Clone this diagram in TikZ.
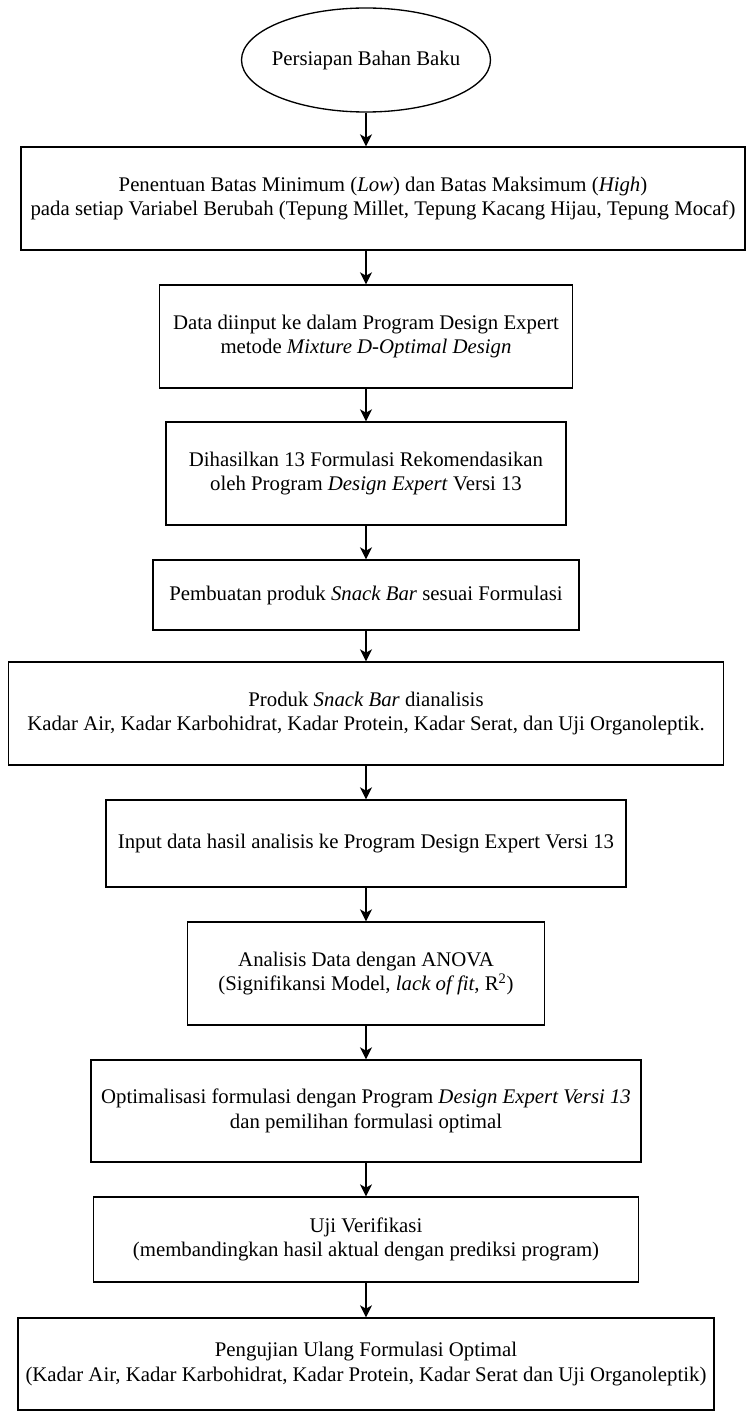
\documentclass[tikz,border=0pt]{standalone}
\usepackage{fontspec}
\setmainfont{Liberation Serif}
\usetikzlibrary{arrows.meta,shapes.geometric}

\begin{document}
\begin{tikzpicture}[x=0.75pt,y=-0.75pt,
    proc/.style={draw,line width=1pt,rectangle,align=center,inner sep=0pt,
        font=\fontsize{15.6}{18.5}\selectfont},
    startnode/.style={draw,line width=1pt,ellipse,inner xsep=-10pt,inner ysep=0pt,
        font=\fontsize{15.6}{18.5}\selectfont},
    flow/.style={line width=1pt,-{Stealth[length=9pt,width=9pt,inset=2.5pt]}}]
    \useasboundingbox (0,0) rectangle (747,1416);
    % start
    \node[startnode,minimum width=186.75pt,minimum height=78pt] (start) at (366,60) {Persiapan Bahan Baku};
    % steps
    \node[proc,minimum width=543pt,minimum height=77.25pt] (b1) at (383,198.5)
        {Penentuan Batas Minimum (\textit{Low}) dan Batas Maksimum (\textit{High})\\
         pada setiap Variabel Berubah (Tepung Millet, Tepung Kacang Hijau, Tepung Mocaf)};
    \node[proc,minimum width=309.75pt,minimum height=77.25pt] (b2) at (366,336.5)
        {Data diinput ke dalam Program Design Expert\\ metode \textit{Mixture D-Optimal Design}};
    \node[proc,minimum width=300pt,minimum height=77.25pt] (b3) at (366,473.5)
        {Dihasilkan 13 Formulasi Rekomendasikan\\ oleh Program \textit{Design Expert} Versi 13};
    \node[proc,minimum width=319.5pt,minimum height=52.5pt] (b4) at (366,595)
        {Pembuatan produk \textit{Snack Bar} sesuai Formulasi};
    \node[proc,minimum width=536.25pt,minimum height=77.25pt] (b5) at (366,713.5)
        {Produk \textit{Snack Bar} dianalisis\\
         Kadar Air, Kadar Karbohidrat, Kadar Protein, Kadar Serat, dan Uji Organoleptik.};
    \node[proc,minimum width=390pt,minimum height=65.25pt] (b6) at (366,843.5)
        {Input data hasil analisis ke Program Design Expert Versi 13};
    \node[proc,minimum width=267.75pt,minimum height=77.25pt] (b7) at (366,973.5)
        {Analisis Data dengan ANOVA\\ (Signifikansi Model, \textit{lack of fit}, R\textsuperscript{2})};
    \node[proc,minimum width=412.5pt,minimum height=76.5pt] (b8) at (366,1111)
        {Optimalisasi formulasi dengan Program \textit{Design Expert Versi 13}\\ dan pemilihan formulasi optimal};
    \node[proc,minimum width=408.75pt,minimum height=63.75pt] (b9) at (366,1239.5)
        {Uji Verifikasi\\ (membandingkan hasil aktual dengan prediksi program)};
    \node[proc,minimum width=522pt,minimum height=69pt] (b10) at (366,1364)
        {Pengujian Ulang Formulasi Optimal\\
         (Kadar Air, Kadar Karbohidrat, Kadar Protein, Kadar Serat dan Uji Organoleptik)};
    % arrows
    \foreach \a/\b in {start/b1,b1/b2,b2/b3,b3/b4,b4/b5,b5/b6,b6/b7,b7/b8,b8/b9,b9/b10}
        \draw[flow] (\a.south -| start) -- (\b.north -| start);
\end{tikzpicture}
\end{document}
